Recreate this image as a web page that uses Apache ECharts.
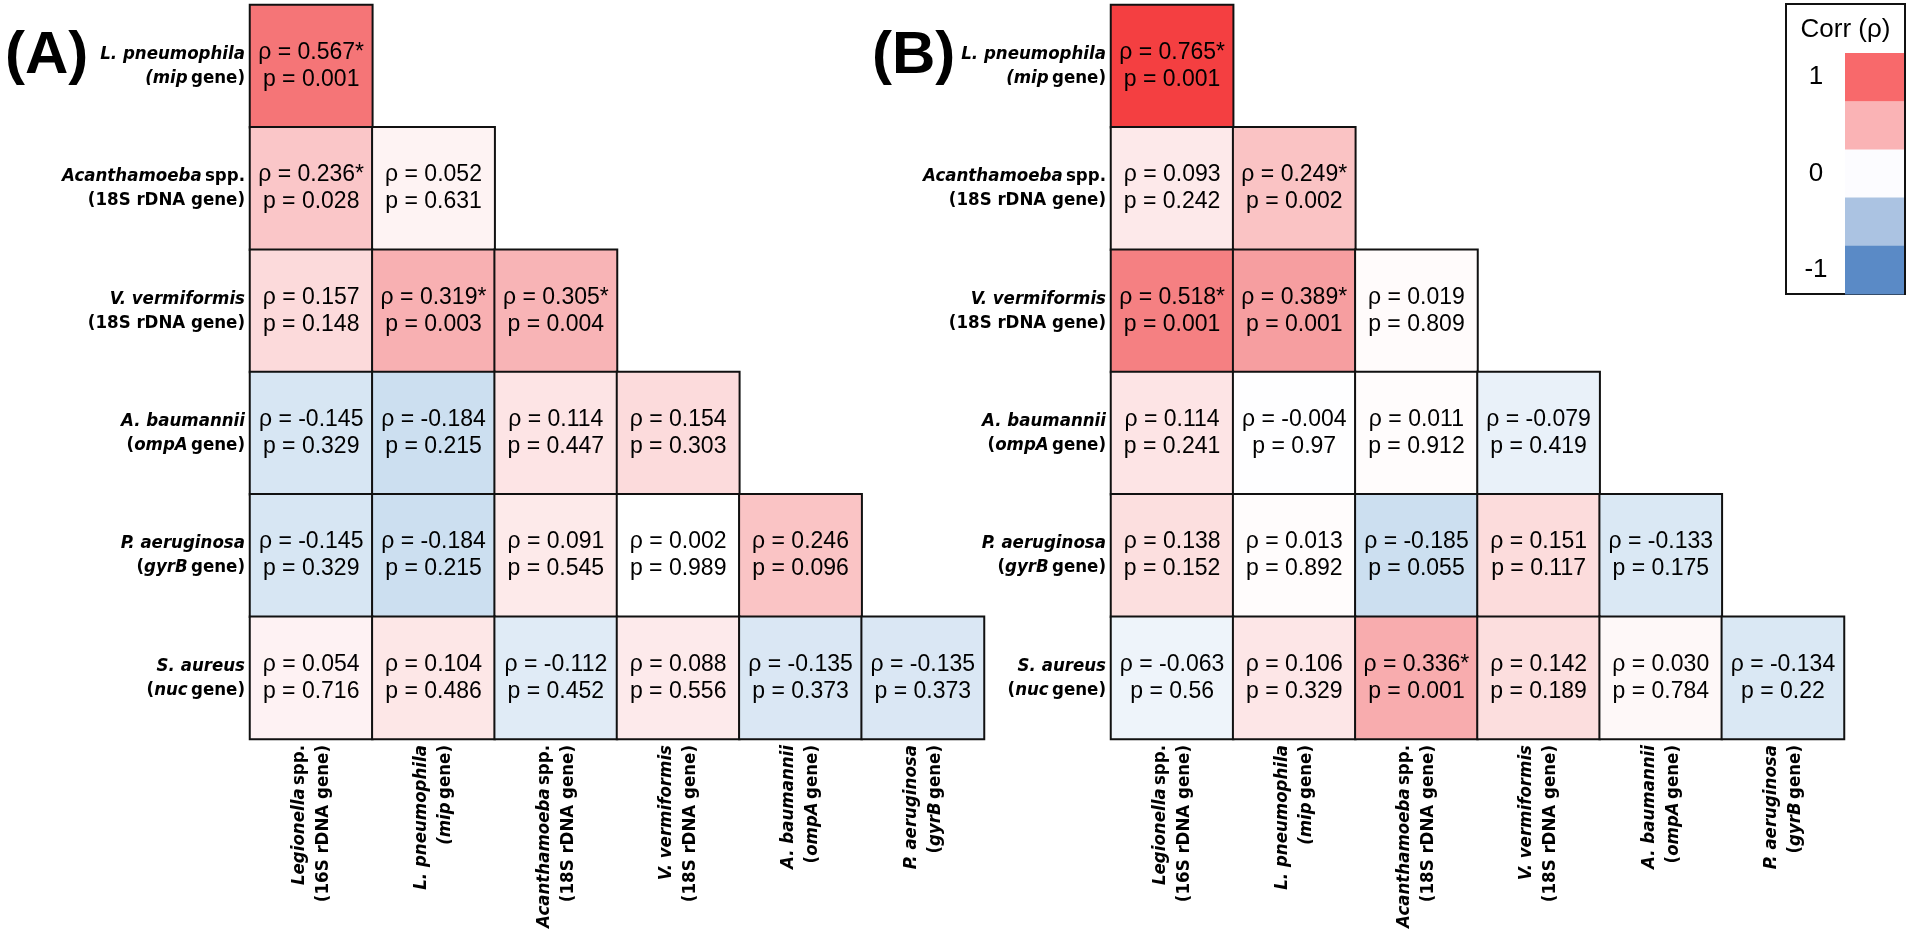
<!DOCTYPE html>
<html>
<head>
<meta charset="utf-8">
<script src="https://cdn.jsdelivr.net/npm/echarts@6/dist/echarts.min.js"></script>
<style>
html,body{margin:0;padding:0;background:#fff;}
#chart{width:1908px;height:938px;}
</style>
</head>
<body>
<div id="chart"></div>
<script>
// ---------- data ----------
const rowLabels = [
  '{i|L. pneumophila}\n{i|(mip} {n|gene)}',
  '{i|Acanthamoeba} {n|spp.}\n{n|(18S rDNA gene)}',
  '{i|V. vermiformis}\n{n|(18S rDNA gene)}',
  '{i|A. baumannii}\n{n|(}{i|ompA} {n|gene)}',
  '{i|P. aeruginosa}\n{n|(}{i|gyrB} {n|gene)}',
  '{i|S. aureus}\n{n|(}{i|nuc} {n|gene)}'
];
const colLabels = [
  '{i|Legionella} {n|spp.}\n{n|(16S rDNA gene)}',
  '{i|L. pneumophila}\n{i|(mip} {n|gene)}',
  '{i|Acanthamoeba} {n|spp.}\n{n|(18S rDNA gene)}',
  '{i|V. vermiformis}\n{n|(18S rDNA gene)}',
  '{i|A. baumannii}\n{n|(}{i|ompA} {n|gene)}',
  '{i|P. aeruginosa}\n{n|(}{i|gyrB} {n|gene)}'
];
const rhoA = [
  [0.567],
  [0.236, 0.052],
  [0.157, 0.319, 0.305],
  [-0.145, -0.184, 0.114, 0.154],
  [-0.145, -0.184, 0.091, 0.002, 0.246],
  [0.054, 0.104, -0.112, 0.088, -0.135, -0.135]
];
const pA = [
  ['0.001'],
  ['0.028', '0.631'],
  ['0.148', '0.003', '0.004'],
  ['0.329', '0.215', '0.447', '0.303'],
  ['0.329', '0.215', '0.545', '0.989', '0.096'],
  ['0.716', '0.486', '0.452', '0.556', '0.373', '0.373']
];
const rhoB = [
  [0.765],
  [0.093, 0.249],
  [0.518, 0.389, 0.019],
  [0.114, -0.004, 0.011, -0.079],
  [0.138, 0.013, -0.185, 0.151, -0.133],
  [-0.063, 0.106, 0.336, 0.142, 0.030, -0.134]
];
const pB = [
  ['0.001'],
  ['0.242', '0.002'],
  ['0.001', '0.001', '0.809'],
  ['0.241', '0.97', '0.912', '0.419'],
  ['0.152', '0.892', '0.055', '0.117', '0.175'],
  ['0.56', '0.329', '0.001', '0.189', '0.784', '0.22']
];
const panelLetters = ['(A)', '(B)'];
const legendTitle = 'Corr (\u03c1)';
const legendColors = ['#F8696B', '#FAB3B5', '#FCFCFF', '#ABC3E2', '#5A8AC6'];
const legendTicks = ['1', '', '0', '', '-1'];

// ---------- font pick (condensed face if installed) ----------
function hasFont(name) {
  const cv = document.createElement('canvas').getContext('2d');
  const s = 'L. pneumophila (18S rDNA gene)';
  cv.font = 'bold 40px monospace';
  const w0 = cv.measureText(s).width;
  cv.font = 'bold 40px "' + name + '", monospace';
  return Math.abs(cv.measureText(s).width - w0) > 1;
}
const fontSizes = {'Liberation Sans Narrow': 22, 'DejaVu Sans Condensed': 18.5, 'Roboto Condensed': 21};
let labFont = 'Roboto', labSize = 18;
for (const f of Object.keys(fontSizes)) {
  if (hasFont(f)) { labFont = f; labSize = fontSizes[f]; break; }
}

// ---------- build ----------
function cells(rho, p) {
  const out = [];
  rho.forEach((row, r) => row.forEach((v, c) => out.push([c, r, v, p[r][c]])));
  return out;
}
const labelRich = {
  i: {fontFamily: labFont, fontStyle: 'italic', fontWeight: 'bold', fontSize: labSize, color: '#000', lineHeight: 24},
  n: {fontFamily: labFont, fontWeight: 'bold', fontSize: labSize, color: '#000', lineHeight: 24}
};
const grids = [
  {left: 250, top: 5, width: 734, height: 734},
  {left: 1111, top: 5, width: 733, height: 734}
];
const xAxes = grids.map((g, i) => ({
  type: 'category', gridIndex: i, data: colLabels,
  axisLine: {show: false}, axisTick: {show: false}, splitLine: {show: false},
  axisLabel: {rotate: 90, margin: 6, rich: labelRich, interval: 0}
}));
const yAxes = grids.map((g, i) => ({
  type: 'category', gridIndex: i, data: rowLabels, inverse: true,
  axisLine: {show: false}, axisTick: {show: false}, splitLine: {show: false},
  axisLabel: {margin: 5, rich: labelRich, interval: 0}
}));
function hm(i, data) {
  return {
    type: 'heatmap', xAxisIndex: i, yAxisIndex: i, data: data,
    itemStyle: {borderColor: '#111', borderWidth: 2},
    label: {
      show: true, color: '#000', fontFamily: 'Liberation Sans, Arial', fontSize: 23, lineHeight: 27,
      formatter: (prm) => {
        const v = prm.data[2], pv = prm.data[3];
        const star = parseFloat(pv) < 0.05 ? '*' : '';
        return '\u03c1 = ' + v.toFixed(3) + star + '\np = ' + pv;
      }
    },
    emphasis: {disabled: true}
  };
}
const graphics = [];
panelLetters.forEach((t, i) => {
  graphics.push({type: 'text', left: i === 0 ? 5 : 872, top: 26,
    style: {text: t, font: 'bold 60px "Liberation Sans", Arial', fill: '#000'}});
});
// legend box
const lgX = 1786, lgY = 4, lgW = 119, lgH = 290, swX = 1845, swY = 53, swH = 48.2;
graphics.push({type: 'rect', shape: {x: lgX, y: lgY, width: lgW, height: lgH},
  style: {fill: '#fff', stroke: '#111', lineWidth: 2}, z: 1});
graphics.push({type: 'text', x: lgX + lgW / 2, y: 30, z: 3,
  style: {text: legendTitle, font: '26px "Liberation Sans", Arial', fill: '#000', textAlign: 'center', textVerticalAlign: 'middle'}});
legendColors.forEach((c, k) => {
  graphics.push({type: 'rect', z: 2, shape: {x: swX, y: swY + k * swH, width: lgX + lgW - swX - 1, height: swH + 0.5},
    style: {fill: c}});
  if (legendTicks[k]) {
    graphics.push({type: 'text', z: 3, x: 1816, y: swY + k * swH + swH / 2,
      style: {text: legendTicks[k], font: '26px "Liberation Sans", Arial', fill: '#000', textAlign: 'center', textVerticalAlign: 'middle'}});
  }
});

const chart = echarts.init(document.getElementById('chart'));
chart.setOption({
  backgroundColor: '#fff',
  animation: false,
  grid: grids,
  xAxis: xAxes,
  yAxis: yAxes,
  visualMap: {
    type: 'continuous', show: false, min: -0.2, max: 0.8, dimension: 2, seriesIndex: [0, 1],
    inRange: {color: ['#C8DCEF', '#FFFFFF', '#FBD0D1', '#F69B9D', '#F56E70', '#F43537']}
  },
  series: [hm(0, cells(rhoA, pA)), hm(1, cells(rhoB, pB))],
  graphic: graphics
});
</script>
</body>
</html>
